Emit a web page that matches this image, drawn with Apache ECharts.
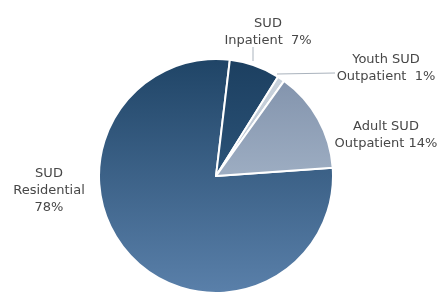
<!DOCTYPE html>
<html>
<head>
<meta charset="utf-8">
<script src="https://cdn.jsdelivr.net/npm/echarts@6/dist/echarts.min.js"></script>
<style>
  html, body { margin: 0; padding: 0; background: #fff; }
  #chart { width: 440px; height: 293px; }
</style>
</head>
<body>
<div id="chart"></div>
<script>
// 数据
const categories = ['SUD Residential', 'SUD Inpatient', 'Youth SUD Outpatient', 'Adult SUD Outpatient']
const values = [78, 7, 1, 14]
// 标签前缀（百分比由图表计算）
const labelHeads = ['SUD\nResidential\n', 'SUD\nInpatient  ', 'Youth SUD\nOutpatient  ', 'Adult SUD\nOutpatient ']

// 颜色（上 -> 下渐变）
const colors = [
  ['#1f4466', '#5a80aa'],
  ['#1c3f60', '#2b5378'],
  ['#c9d2dc', '#b9c4d1'],
  ['#8394ad', '#9dadc2']
]

// 标签位置
const labelSpots = [
  { x: 49, y: 191, line: null },
  { x: 268, y: 32, line: [[253, 61], [253, 47]] },
  { x: 386, y: 68, line: [[277, 74], [335, 73]] },
  { x: 386, y: 135, line: null }
]

const data = categories.map((name, i) => ({
  name,
  value: values[i],
  itemStyle: {
    color: new echarts.graphic.LinearGradient(0, 0, 0, 1, [
      { offset: 0, color: colors[i][0] },
      { offset: 1, color: colors[i][1] }
    ])
  },
  labelLine: { show: !!labelSpots[i].line }
}))

const chart = echarts.init(document.getElementById('chart'))
chart.setOption({
  animation: false,
  backgroundColor: '#fff',
  series: [{
    type: 'pie',
    center: [216, 176],
    radius: 117,
    startAngle: 4,
    clockwise: true,
    data,
    itemStyle: {
      borderColor: '#fff',
      borderWidth: 2
    },
    label: {
      show: true,
      position: 'outside',
      formatter: (p) => labelHeads[p.dataIndex] + Math.round(p.percent) + '%',
      fontFamily: 'DejaVu Sans',
      fontSize: 13,
      lineHeight: 17,
      color: '#474747',
      align: 'center',
      overflow: 'none'
    },
    labelLine: {
      show: true,
      lineStyle: { color: '#aab3bd', width: 1 }
    },
    labelLayout: (params) => {
      const s = labelSpots[params.dataIndex]
      const out = {
        x: s.x,
        y: s.y,
        align: 'center',
        verticalAlign: 'middle'
      }
      if (s.line) {
        out.labelLinePoints = s.line
      }
      return out
    }
  }]
})
</script>
</body>
</html>
